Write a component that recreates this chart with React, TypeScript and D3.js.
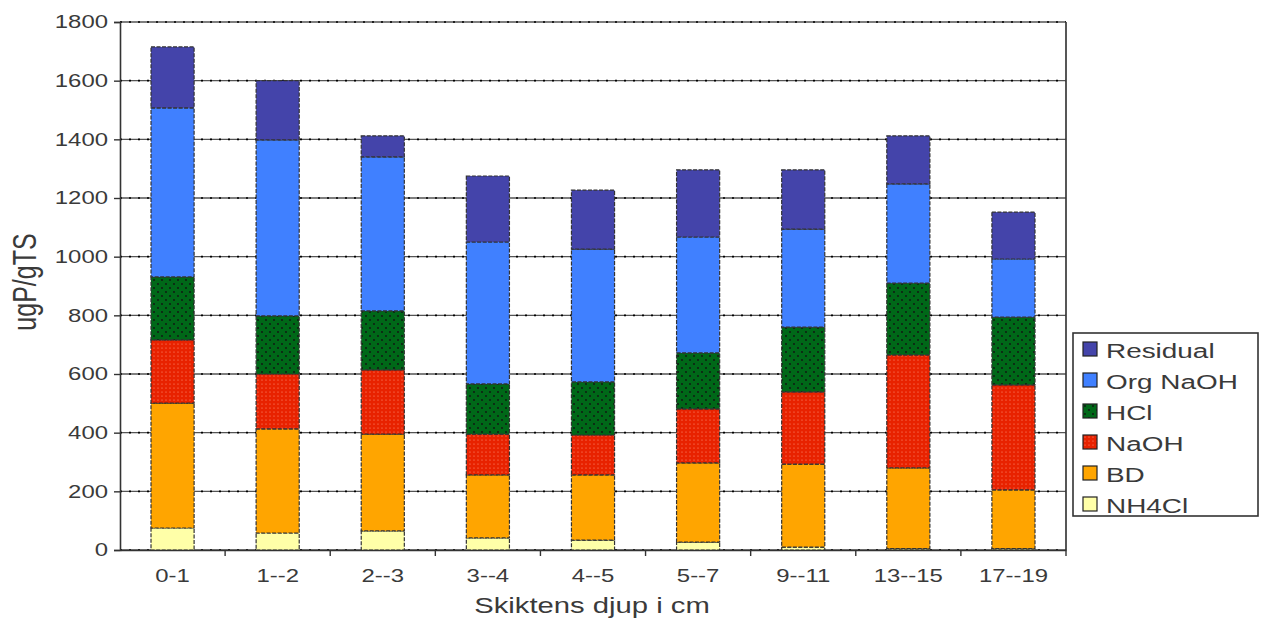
import { useEffect, useRef } from "react";
import * as d3 from "d3";

const categories = ["0-1", "1--2", "2--3", "3--4", "4--5", "5--7", "9--11", "13--15", "17--19"];
const seriesNames = ["NH4Cl", "BD", "NaOH", "HCl", "Org NaOH", "Residual"];

const nh4cl = [75, 58, 65, 41, 34, 27, 10, 5, 5];
const bd = [426, 355, 330, 215, 222, 270, 283, 275, 200];
const naoh = [215, 187, 219, 139, 136, 184, 246, 385, 358];
const hcl = [215, 198, 201, 171, 181, 191, 221, 245, 231];
const orgNaoh = [576, 600, 525, 484, 453, 395, 334, 338, 198];
const residual = [208, 202, 72, 225, 201, 229, 202, 164, 160];

const yTicks = [0, 200, 400, 600, 800, 1000, 1200, 1400, 1600, 1800];

const fills: Record<string, string> = {
  NH4Cl: "#ffffa8",
  BD: "#ffa500",
  NaOH: "url(#pat-naoh)",
  HCl: "url(#pat-hcl)",
  "Org NaOH": "#4080ff",
  Residual: "#4444aa",
};

// the source picture is stretched sideways, so all text is widened
const SX = 1.33;

export default function App() {
  const ref = useRef<SVGSVGElement>(null);

  useEffect(() => {
    if (!ref.current) return;
    const svg = d3.select(ref.current);
    svg.selectAll("*").remove();

    const margin = { top: 22, right: 195, bottom: 70, left: 120 };
    const W = 1261;
    const H = 620;
    const width = W - margin.left - margin.right;
    const height = H - margin.top - margin.bottom;
    const font = "'Liberation Sans', Arial, sans-serif";
    const textColor = "#3a3a3a";

    const defs = svg.append("defs");
    const ph = defs.append("pattern").attr("id", "pat-hcl").attr("patternUnits", "userSpaceOnUse").attr("width", 8).attr("height", 8);
    ph.append("rect").attr("width", 8).attr("height", 8).attr("fill", "#006818");
    ph.append("circle").attr("cx", 2).attr("cy", 2).attr("r", 0.9).attr("fill", "#111");
    ph.append("circle").attr("cx", 6).attr("cy", 6).attr("r", 0.9).attr("fill", "#111");
    const pn = defs.append("pattern").attr("id", "pat-naoh").attr("patternUnits", "userSpaceOnUse").attr("width", 4).attr("height", 4);
    pn.append("rect").attr("width", 4).attr("height", 4).attr("fill", "#e82200");
    pn.append("circle").attr("cx", 2).attr("cy", 2).attr("r", 0.6).attr("fill", "#ff9a80");

    const g = svg.append("g").attr("transform", `translate(${margin.left},${margin.top})`);

    const x = d3.scaleBand().domain(categories).range([0, width]).paddingInner(0.59).paddingOuter(0.295);
    const y = d3.scaleLinear().domain([0, 1800]).range([height, 0]);

    // gridlines: grey line with black dots
    g.append("g")
      .selectAll("line")
      .data(yTicks)
      .enter()
      .append("line")
      .attr("x1", 0)
      .attr("x2", width)
      .attr("y1", (d) => y(d))
      .attr("y2", (d) => y(d))
      .attr("stroke", "#555")
      .attr("stroke-width", 1.3);
    g.append("g")
      .selectAll("line")
      .data(yTicks)
      .enter()
      .append("line")
      .attr("x1", 0)
      .attr("x2", width)
      .attr("y1", (d) => y(d))
      .attr("y2", (d) => y(d))
      .attr("stroke", "#000")
      .attr("stroke-width", 1.6)
      .attr("stroke-dasharray", "2,7");

    // right frame
    g.append("line")
      .attr("x1", width)
      .attr("x2", width)
      .attr("y1", 0)
      .attr("y2", height)
      .attr("stroke", "#444")
      .attr("stroke-width", 1.8);

    // stacked bars
    const table = categories.map((c, i) => ({
      cat: c,
      NH4Cl: nh4cl[i],
      BD: bd[i],
      NaOH: naoh[i],
      HCl: hcl[i],
      "Org NaOH": orgNaoh[i],
      Residual: residual[i],
    }));
    const stacked = d3.stack<any>().keys(seriesNames)(table);

    stacked.forEach((layer) => {
      g.append("g")
        .selectAll("rect")
        .data(layer)
        .enter()
        .append("rect")
        .attr("x", (d: any) => x(d.data.cat) || 0)
        .attr("width", x.bandwidth())
        .attr("y", (d) => y(d[1]))
        .attr("height", (d) => y(d[0]) - y(d[1]))
        .attr("fill", fills[layer.key])
        .attr("stroke", "#333")
        .attr("stroke-width", 1.2)
        .attr("stroke-dasharray", "4,1.5");
    });

    // y axis
    const yAxis = g
      .append("g")
      .call(d3.axisLeft(y).tickValues(yTicks).tickFormat(d3.format("d")).tickSize(6).tickPadding(12))
      .call((s) => s.select(".domain").attr("stroke", "#333").attr("stroke-width", 1.6));
    yAxis.selectAll(".tick line").attr("stroke", "#333").attr("stroke-width", 1.4);
    yAxis
      .selectAll(".tick text")
      .attr("x", -12 / SX)
      .attr("transform", `scale(${SX},1)`)
      .attr("fill", textColor)
      .style("font-family", font)
      .style("font-size", "18px");

    // x axis
    const xAxis = g
      .append("g")
      .attr("transform", `translate(0,${height})`)
      .call(d3.axisBottom(x).tickSize(0))
      .call((s) => s.select(".domain").attr("stroke", "#333").attr("stroke-width", 1.6));
    xAxis
      .selectAll(".tick text")
      .attr("y", 32)
      .attr("dy", 0)
      .attr("transform", `scale(${SX},1)`)
      .attr("fill", textColor)
      .style("font-family", font)
      .style("font-size", "18px");
    const step = x.step();
    xAxis
      .append("g")
      .selectAll("line")
      .data(d3.range(1, categories.length + 1))
      .enter()
      .append("line")
      .attr("x1", (i) => i * step)
      .attr("x2", (i) => i * step)
      .attr("y1", 0)
      .attr("y2", 6)
      .attr("stroke", "#333")
      .attr("stroke-width", 1.4);

    // axis titles
    svg
      .append("text")
      .attr("transform", `translate(36,282) scale(${SX},1) rotate(-90)`)
      .attr("text-anchor", "middle")
      .attr("fill", textColor)
      .style("font-family", font)
      .style("font-size", "25px")
      .text("ugP/gTS");
    svg
      .append("text")
      .attr("transform", `translate(592,613) scale(${SX},1)`)
      .attr("text-anchor", "middle")
      .attr("fill", textColor)
      .style("font-family", font)
      .style("font-size", "22px")
      .text("Skiktens djup i cm");

    // legend
    const lg = svg.append("g").attr("transform", "translate(1073,333)");
    lg.append("rect")
      .attr("width", 185)
      .attr("height", 183)
      .attr("fill", "#fff")
      .attr("stroke", "#333")
      .attr("stroke-width", 1.6);
    const legendOrder = [...seriesNames].reverse();
    const item = lg
      .selectAll(".item")
      .data(legendOrder)
      .enter()
      .append("g")
      .attr("transform", (_d, i) => `translate(10,${9 + i * 31})`);
    item
      .append("rect")
      .attr("width", 14)
      .attr("height", 14)
      .attr("fill", (d) => fills[d])
      .attr("stroke", "#222")
      .attr("stroke-width", 1.2);
    item
      .append("text")
      .attr("transform", `translate(23,16) scale(${SX},1)`)
      .attr("fill", textColor)
      .style("font-family", font)
      .style("font-size", "21px")
      .text((d) => d);
  }, []);

  return (
    <svg
      ref={ref}
      width={1261}
      height={620}
      style={{ position: "absolute", left: 0, top: 0, background: "#fff" }}
    />
  );
}
